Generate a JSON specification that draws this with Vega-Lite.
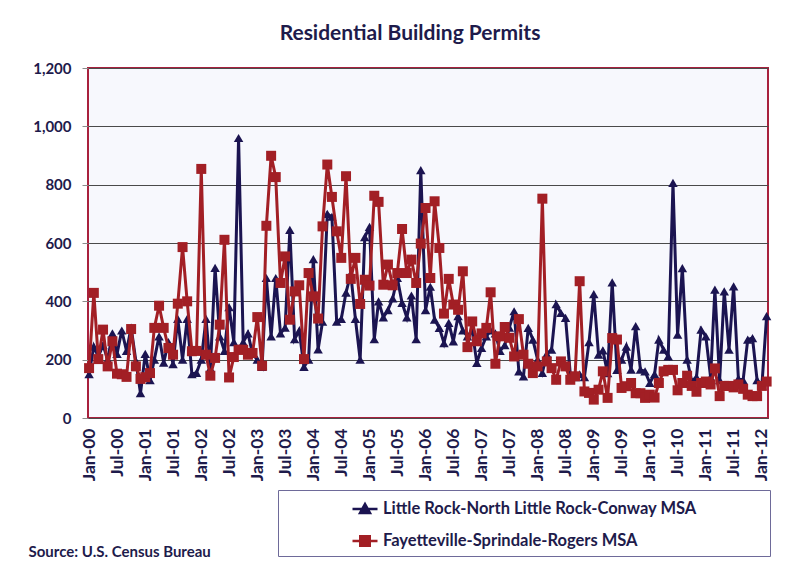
{
"$schema": "https://vega.github.io/schema/vega-lite/v6.json",
"width": 680, "height": 350,
"autosize": {"type": "none"},
"padding": {"left": 88, "top": 68, "right": 20, "bottom": 143},
"background": "white",
"title": {"text": "Residential Building Permits", "font": "Lato", "fontSize": 21, "fontWeight": "bold", "color": "#1E1B4B", "anchor": "middle", "dx": -18, "offset": 17},
"config": {
  "view": {"stroke": "#A8213D", "strokeWidth": 2, "fill": "#F7F8FD"},
  "font": "Lato",
  "axisY": {"labelFont": "Lato", "labelFontWeight": "bold", "labelColor": "#1E1B4B", "labelFontSize": 15, "labelPadding": 11, "tickSize": 6, "tickColor": "#8c8c8c", "domain": false, "grid": true, "gridColor": "#4a4a4a", "gridWidth": 1.2}
},
"data": {"values": [
{"date":"2000-01-01","lr":150,"fsr":171},{"date":"2000-02-01","lr":245,"fsr":429},{"date":"2000-03-01","lr":210,"fsr":202},{"date":"2000-04-01","lr":250,"fsr":303},{"date":"2000-05-01","lr":200,"fsr":177},{"date":"2000-06-01","lr":290,"fsr":263},{"date":"2000-07-01","lr":220,"fsr":152},{"date":"2000-08-01","lr":300,"fsr":150},{"date":"2000-09-01","lr":230,"fsr":141},{"date":"2000-10-01","lr":310,"fsr":305},{"date":"2000-11-01","lr":195,"fsr":177},{"date":"2000-12-01","lr":85,"fsr":134},
{"date":"2001-01-01","lr":220,"fsr":140},{"date":"2001-02-01","lr":130,"fsr":154},{"date":"2001-03-01","lr":200,"fsr":309},{"date":"2001-04-01","lr":280,"fsr":385},{"date":"2001-05-01","lr":190,"fsr":309},{"date":"2001-06-01","lr":260,"fsr":240},{"date":"2001-07-01","lr":185,"fsr":217},{"date":"2001-08-01","lr":340,"fsr":392},{"date":"2001-09-01","lr":200,"fsr":586},{"date":"2001-10-01","lr":340,"fsr":400},{"date":"2001-11-01","lr":150,"fsr":229},{"date":"2001-12-01","lr":155,"fsr":230},
{"date":"2002-01-01","lr":200,"fsr":854},{"date":"2002-02-01","lr":340,"fsr":217},{"date":"2002-03-01","lr":170,"fsr":145},{"date":"2002-04-01","lr":515,"fsr":206},{"date":"2002-05-01","lr":280,"fsr":320},{"date":"2002-06-01","lr":230,"fsr":611},{"date":"2002-07-01","lr":380,"fsr":139},{"date":"2002-08-01","lr":260,"fsr":209},{"date":"2002-09-01","lr":960,"fsr":234},{"date":"2002-10-01","lr":260,"fsr":234},{"date":"2002-11-01","lr":290,"fsr":217},{"date":"2002-12-01","lr":220,"fsr":223},
{"date":"2003-01-01","lr":200,"fsr":346},{"date":"2003-02-01","lr":175,"fsr":179},{"date":"2003-03-01","lr":480,"fsr":659},{"date":"2003-04-01","lr":280,"fsr":899},{"date":"2003-05-01","lr":480,"fsr":826},{"date":"2003-06-01","lr":290,"fsr":463},{"date":"2003-07-01","lr":310,"fsr":554},{"date":"2003-08-01","lr":645,"fsr":337},{"date":"2003-09-01","lr":270,"fsr":434},{"date":"2003-10-01","lr":300,"fsr":455},{"date":"2003-11-01","lr":175,"fsr":202},{"date":"2003-12-01","lr":200,"fsr":497},
{"date":"2004-01-01","lr":545,"fsr":417},{"date":"2004-02-01","lr":235,"fsr":341},{"date":"2004-03-01","lr":330,"fsr":657},{"date":"2004-04-01","lr":700,"fsr":869},{"date":"2004-05-01","lr":690,"fsr":758},{"date":"2004-06-01","lr":330,"fsr":640},{"date":"2004-07-01","lr":340,"fsr":549},{"date":"2004-08-01","lr":430,"fsr":829},{"date":"2004-09-01","lr":495,"fsr":477},{"date":"2004-10-01","lr":340,"fsr":549},{"date":"2004-11-01","lr":200,"fsr":391},{"date":"2004-12-01","lr":620,"fsr":474},
{"date":"2005-01-01","lr":655,"fsr":454},{"date":"2005-02-01","lr":270,"fsr":762},{"date":"2005-03-01","lr":400,"fsr":741},{"date":"2005-04-01","lr":345,"fsr":457},{"date":"2005-05-01","lr":370,"fsr":526},{"date":"2005-06-01","lr":410,"fsr":455},{"date":"2005-07-01","lr":480,"fsr":497},{"date":"2005-08-01","lr":395,"fsr":648},{"date":"2005-09-01","lr":345,"fsr":497},{"date":"2005-10-01","lr":420,"fsr":543},{"date":"2005-11-01","lr":270,"fsr":463},{"date":"2005-12-01","lr":850,"fsr":598},
{"date":"2006-01-01","lr":370,"fsr":720},{"date":"2006-02-01","lr":450,"fsr":480},{"date":"2006-03-01","lr":337,"fsr":743},{"date":"2006-04-01","lr":309,"fsr":583},{"date":"2006-05-01","lr":257,"fsr":358},{"date":"2006-06-01","lr":326,"fsr":477},{"date":"2006-07-01","lr":263,"fsr":389},{"date":"2006-08-01","lr":349,"fsr":371},{"date":"2006-09-01","lr":300,"fsr":503},{"date":"2006-10-01","lr":280,"fsr":243},{"date":"2006-11-01","lr":300,"fsr":331},{"date":"2006-12-01","lr":189,"fsr":263},
{"date":"2007-01-01","lr":240,"fsr":290},{"date":"2007-02-01","lr":280,"fsr":309},{"date":"2007-03-01","lr":300,"fsr":431},{"date":"2007-04-01","lr":290,"fsr":186},{"date":"2007-05-01","lr":230,"fsr":280},{"date":"2007-06-01","lr":250,"fsr":312},{"date":"2007-07-01","lr":310,"fsr":275},{"date":"2007-08-01","lr":366,"fsr":211},{"date":"2007-09-01","lr":160,"fsr":339},{"date":"2007-10-01","lr":143,"fsr":217},{"date":"2007-11-01","lr":309,"fsr":186},{"date":"2007-12-01","lr":269,"fsr":154},
{"date":"2008-01-01","lr":200,"fsr":177},{"date":"2008-02-01","lr":155,"fsr":752},{"date":"2008-03-01","lr":220,"fsr":194},{"date":"2008-04-01","lr":234,"fsr":171},{"date":"2008-05-01","lr":390,"fsr":131},{"date":"2008-06-01","lr":360,"fsr":194},{"date":"2008-07-01","lr":343,"fsr":177},{"date":"2008-08-01","lr":150,"fsr":131},{"date":"2008-09-01","lr":140,"fsr":143},{"date":"2008-10-01","lr":150,"fsr":469},{"date":"2008-11-01","lr":140,"fsr":91},{"date":"2008-12-01","lr":260,"fsr":86},
{"date":"2009-01-01","lr":425,"fsr":63},{"date":"2009-02-01","lr":217,"fsr":97},{"date":"2009-03-01","lr":232,"fsr":160},{"date":"2009-04-01","lr":154,"fsr":69},{"date":"2009-05-01","lr":465,"fsr":274},{"date":"2009-06-01","lr":165,"fsr":269},{"date":"2009-07-01","lr":200,"fsr":103},{"date":"2009-08-01","lr":245,"fsr":109},{"date":"2009-09-01","lr":166,"fsr":120},{"date":"2009-10-01","lr":315,"fsr":85},{"date":"2009-11-01","lr":166,"fsr":85},{"date":"2009-12-01","lr":160,"fsr":69},
{"date":"2010-01-01","lr":120,"fsr":80},{"date":"2010-02-01","lr":150,"fsr":70},{"date":"2010-03-01","lr":269,"fsr":120},{"date":"2010-04-01","lr":234,"fsr":160},{"date":"2010-05-01","lr":211,"fsr":165},{"date":"2010-06-01","lr":806,"fsr":165},{"date":"2010-07-01","lr":286,"fsr":95},{"date":"2010-08-01","lr":514,"fsr":120},{"date":"2010-09-01","lr":200,"fsr":145},{"date":"2010-10-01","lr":126,"fsr":110},{"date":"2010-11-01","lr":140,"fsr":90},{"date":"2010-12-01","lr":303,"fsr":120},
{"date":"2011-01-01","lr":280,"fsr":125},{"date":"2011-02-01","lr":140,"fsr":115},{"date":"2011-03-01","lr":440,"fsr":170},{"date":"2011-04-01","lr":130,"fsr":75},{"date":"2011-05-01","lr":434,"fsr":110},{"date":"2011-06-01","lr":234,"fsr":110},{"date":"2011-07-01","lr":451,"fsr":105},{"date":"2011-08-01","lr":135,"fsr":115},{"date":"2011-09-01","lr":130,"fsr":100},{"date":"2011-10-01","lr":269,"fsr":80},{"date":"2011-11-01","lr":274,"fsr":75},{"date":"2011-12-01","lr":130,"fsr":75},
{"date":"2012-01-01","lr":110,"fsr":110},{"date":"2012-02-01","lr":349,"fsr":125}
]},
"encoding": {
  "x": {"field": "date", "type": "temporal",
    "scale": {"type": "utc", "domain": [{"year": 1999, "month": 12, "date": 25, "utc": true}, {"year": 2012, "month": 2, "date": 10, "utc": true}]},
    "axis": {"tickCount": {"interval": "month", "step": 6}, "format": "%b-%y", "labelAngle": 270, "labelFont": "Lato", "labelFontWeight": "bold", "labelColor": "#1E1B4B", "labelFontSize": 17.5, "labelPadding": 10, "labelOverlap": false, "labelFlush": false, "ticks": false, "domain": false, "grid": false,
      "title": "Source: U.S. Census Bureau", "titleFont": "Lato", "titleFontSize": 15, "titleFontWeight": "bold", "titleColor": "#1E1B4B", "titleX": -60, "titleY": 138, "titleAlign": "left", "titleBaseline": "alphabetic", "titleAngle": 0}}
},
"layer": [
  {"mark": {"type": "line", "strokeWidth": 3},
   "encoding": {
     "y": {"field": "lr", "type": "quantitative", "scale": {"domain": [0, 1200], "nice": false}, "axis": {"title": null, "values": [0, 200, 400, 600, 800, 1000, 1200], "format": ",d"}},
     "color": {"datum": "Little Rock-North Little Rock-Conway MSA",
       "scale": {"domain": ["Little Rock-North Little Rock-Conway MSA", "Fayetteville-Sprindale-Rogers MSA"], "range": ["#1B1451", "#A21F25"]},
       "legend": {"orient": "none", "legendX": 190, "legendY": 422, "direction": "vertical",
         "title": "MMMMM", "titleOrient": "right", "titlePadding": 0, "titleFontSize": 14.2, "titleOpacity": 0,
         "padding": 5, "strokeColor": "#6E6A99", "fillColor": "white",
         "symbolOffset": 68, "symbolSize": 625, "symbolStrokeWidth": 2.5, "rowPadding": 9, "labelOffset": 4,
         "labelFont": "Lato", "labelFontSize": 16.5, "labelFontWeight": "bold", "labelColor": "#1E1B4B", "labelLimit": 600,
         "encode": {"symbols": {"update": {
           "shape": {"signal": "datum.value === 'Little Rock-North Little Rock-Conway MSA' ? 'M-1,0L1,0M-0.4,0.32L0,-0.4L0.4,0.32Z' : 'M-1,0L1,0M-0.38,-0.38L0.38,-0.38L0.38,0.38L-0.38,0.38Z'"},
           "fill": {"scale": "color", "field": "value"},
           "stroke": {"scale": "color", "field": "value"},
           "strokeWidth": {"value": 2.5},
           "opacity": {"value": 1}}}}}}
   }},
  {"mark": {"type": "point", "filled": true, "opacity": 1, "size": 90, "shape": "triangle-up"},
   "encoding": {
     "y": {"field": "lr", "type": "quantitative"},
     "color": {"datum": "Little Rock-North Little Rock-Conway MSA"}
   }},
  {"mark": {"type": "line", "strokeWidth": 3},
   "encoding": {
     "y": {"field": "fsr", "type": "quantitative"},
     "color": {"datum": "Fayetteville-Sprindale-Rogers MSA"}
   }},
  {"mark": {"type": "point", "filled": true, "opacity": 1, "size": 100, "shape": "square"},
   "encoding": {
     "y": {"field": "fsr", "type": "quantitative"},
     "color": {"datum": "Fayetteville-Sprindale-Rogers MSA"}
   }}
]
}
